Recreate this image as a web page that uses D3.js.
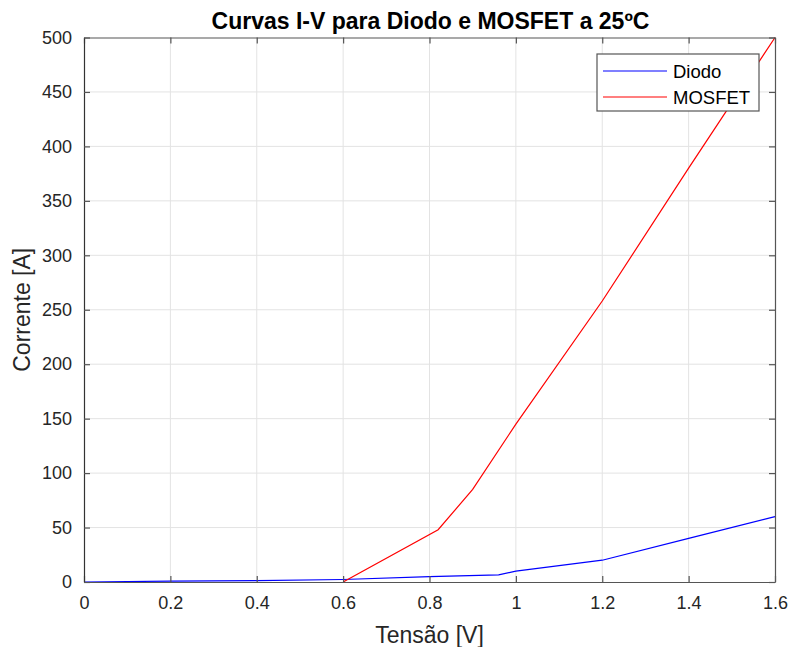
<!DOCTYPE html>
<html>
<head>
<meta charset="utf-8">
<script src="https://cdn.jsdelivr.net/npm/d3@7/dist/d3.min.js"></script>
<style>
  html, body { margin: 0; padding: 0; background: #fff; }
  svg { display: block; font-family: "Liberation Sans", Arial, Helvetica, sans-serif; }
</style>
</head>
<body>
<svg id="chart" width="793" height="647"></svg>
<script>
// Diode and MOSFET I-V samples (voltage in V, current in A)
const diodoV = [0, 0.2, 0.4, 0.6, 0.8, 0.96, 1.0, 1.2, 1.4, 1.6];
const diodoI = [0, 0.8, 1.3, 2.3, 5, 6.5, 10, 20, 40, 60];
const mosfetV = [0.6, 0.82, 0.9, 1.0, 1.2, 1.4, 1.6];
const mosfetI = [0, 48, 85, 145, 258, 380, 500];

const xTicks = [0, 0.2, 0.4, 0.6, 0.8, 1, 1.2, 1.4, 1.6];
const yTicks = [0, 50, 100, 150, 200, 250, 300, 350, 400, 450, 500];

const seriesNames = ["Diodo", "MOSFET"];
const seriesColors = ["#0000ff", "#ff0000"];

const margin = { left: 84, top: 37.5, right: 793 - 775, bottom: 647 - 582 };
const W = 793, H = 647;
const iw = W - margin.left - margin.right;
const ih = H - margin.top - margin.bottom;

const svg = d3.select("#chart");
const g = svg.append("g").attr("transform", `translate(${margin.left},${margin.top})`);

const x = d3.scaleLinear().domain([0, 1.6]).range([0, iw]);
const y = d3.scaleLinear().domain([0, 500]).range([ih, 0]);

// grid
g.append("g").selectAll("line").data(xTicks.slice(1, -1)).join("line")
  .attr("x1", d => x(d)).attr("x2", d => x(d)).attr("y1", 0).attr("y2", ih)
  .attr("stroke", "#e3e3e3").attr("stroke-width", 1);
g.append("g").selectAll("line").data(yTicks.slice(1, -1)).join("line")
  .attr("y1", d => y(d)).attr("y2", d => y(d)).attr("x1", 0).attr("x2", iw)
  .attr("stroke", "#e3e3e3").attr("stroke-width", 1);

// data lines
const line = d3.line().x(d => x(d[0])).y(d => y(d[1]));
const diodo = diodoV.map((v, i) => [v, diodoI[i]]);
const mosfet = mosfetV.map((v, i) => [v, mosfetI[i]]);
g.append("path").datum(diodo).attr("d", line).attr("fill", "none")
  .attr("stroke", seriesColors[0]).attr("stroke-width", 1.2);
g.append("path").datum(mosfet).attr("d", line).attr("fill", "none")
  .attr("stroke", seriesColors[1]).attr("stroke-width", 1.2);

// axes (ticks pointing inward, box on all sides)
const tickLen = 6;
const fmt = d => String(d);
const xAxis = g.append("g").attr("transform", `translate(0,${ih})`)
  .call(d3.axisBottom(x).tickValues(xTicks).tickFormat(fmt).tickSizeInner(-tickLen).tickSizeOuter(0).tickPadding(14));
const xTop = g.append("g")
  .call(d3.axisTop(x).tickValues(xTicks).tickFormat("").tickSizeInner(-tickLen).tickSizeOuter(0));
const yAxis = g.append("g")
  .call(d3.axisLeft(y).tickValues(yTicks).tickFormat(fmt).tickSizeInner(-tickLen).tickSizeOuter(0).tickPadding(12));
const yRight = g.append("g").attr("transform", `translate(${iw},0)`)
  .call(d3.axisRight(y).tickValues(yTicks).tickFormat("").tickSizeInner(-tickLen).tickSizeOuter(0));

[xAxis, xTop, yAxis, yRight].forEach(a => {
  a.select(".domain").attr("stroke", "#555").attr("stroke-width", 1.2);
  a.selectAll(".tick line").attr("stroke", "#555").attr("stroke-width", 1.2);
  a.selectAll(".tick text").attr("fill", "#262626").attr("font-size", 18)
    .attr("font-family", "'Liberation Sans', Arial, sans-serif");
});
yAxis.select(".domain").attr("stroke", "#333");

// axis labels
svg.append("text").attr("x", margin.left + iw / 2).attr("y", 643)
  .attr("text-anchor", "middle").attr("font-size", 23).attr("fill", "#262626")
  .text("Tensão [V]");
svg.append("text").attr("transform", `translate(30,${margin.top + ih / 2}) rotate(-90)`)
  .attr("text-anchor", "middle").attr("font-size", 23).attr("fill", "#262626")
  .text("Corrente [A]");

// title
svg.append("text").attr("x", margin.left + iw / 2 + 1).attr("y", 29)
  .attr("text-anchor", "middle").attr("font-size", 23).attr("font-weight", "bold")
  .attr("fill", "#000").text("Curvas I-V para Diodo e MOSFET a 25ºC");

// legend
const lg = svg.append("g").attr("transform", "translate(597,54)");
lg.append("rect").attr("width", 162).attr("height", 57)
  .attr("fill", "#fff").attr("stroke", "#555").attr("stroke-width", 1.2);
seriesNames.forEach((name, i) => {
  const cy = 17 + i * 26;
  lg.append("line").attr("x1", 6).attr("x2", 70).attr("y1", cy).attr("y2", cy)
    .attr("stroke", seriesColors[i]).attr("stroke-width", 1.2);
  lg.append("text").attr("x", 76).attr("y", cy + 6.5).attr("font-size", 18.5)
    .attr("fill", "#000").text(name);
});
</script>
</body>
</html>
